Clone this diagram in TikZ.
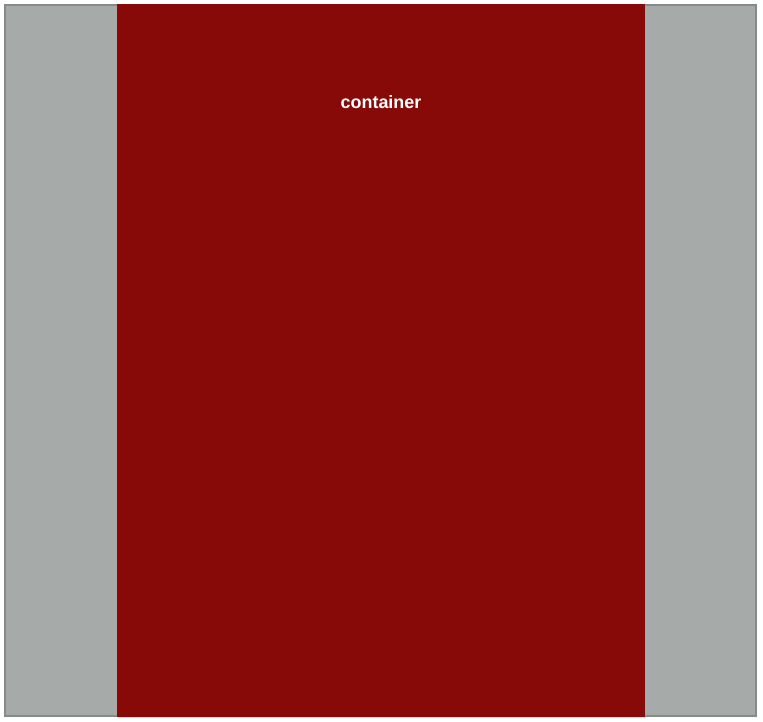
\documentclass[tikz,border=0pt]{standalone}
\usepackage{fontspec}
\setmainfont{Liberation Sans}
\usetikzlibrary{positioning}
\definecolor{FrameGrey}{RGB}{166,170,169}
\definecolor{FrameEdge}{RGB}{134,138,138}
\definecolor{ContainerRed}{RGB}{136,10,8}

\begin{document}
\begin{tikzpicture}[x=0.02cm, y=-0.02cm]
    % Page bounds in pixels of the reference
    \useasboundingbox (0,0) rectangle (763,722);
    % Grey frame behind everything
    \draw[FrameEdge, fill=FrameGrey, line width=1.6pt] (5,5) rectangle (756,716);
    % Red container block with its title
    \fill[black!35, opacity=0.4] (118,5) rectangle (646,718);
    \fill[ContainerRed] (117,4) rectangle (645,717);
    \node[text=white, font=\bfseries\fontsize{10.2}{12}\selectfont] (container) at (381,102) {container};
\end{tikzpicture}
\end{document}
